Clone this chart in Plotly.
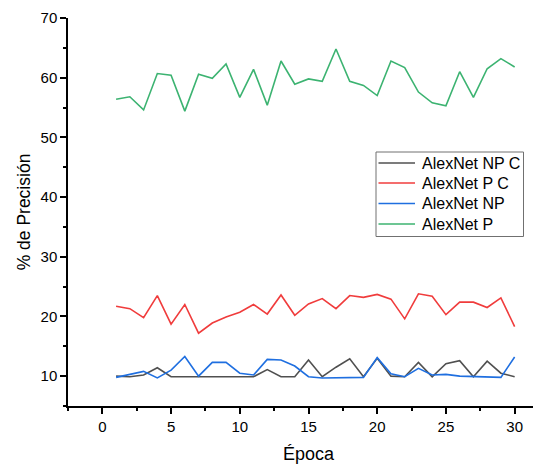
import plotly.graph_objects as go

epochs = list(range(1, 31))

alexnet_np_c = [10.0, 9.9, 10.2, 11.4, 9.9, 9.9, 9.9, 9.9, 9.9, 9.9,
                9.9, 11.1, 9.9, 9.9, 12.7, 9.9, 11.5, 12.9, 9.9, 13.0,
                10.0, 9.9, 12.3, 9.9, 12.1, 12.6, 9.9, 12.5, 10.5, 9.9]
alexnet_p_c = [21.7, 21.3, 19.8, 23.5, 18.7, 22.0, 17.2, 18.9, 19.9, 20.7,
               22.0, 20.4, 23.6, 20.2, 22.1, 23.0, 21.3, 23.5, 23.2, 23.7,
               22.9, 19.6, 23.8, 23.4, 20.3, 22.4, 22.4, 21.5, 23.1, 18.3]
alexnet_np = [9.8, 10.3, 10.8, 9.7, 11.0, 13.3, 10.0, 12.3, 12.3, 10.5,
              10.2, 12.8, 12.7, 11.7, 9.9, 9.7, 9.7, 9.8, 9.8, 13.1,
              10.4, 9.9, 11.3, 10.2, 10.3, 10.0, 9.9, 9.8, 9.8, 13.2]
alexnet_p = [56.4, 56.8, 54.6, 60.7, 60.4, 54.4, 60.6, 59.9, 62.3, 56.7,
             61.4, 55.4, 62.8, 58.9, 59.8, 59.4, 64.8, 59.4, 58.7, 57.0,
             62.8, 61.7, 57.6, 55.8, 55.3, 61.0, 56.7, 61.5, 63.2, 61.8]

series_names = ["AlexNet NP C", "AlexNet P C", "AlexNet NP", "AlexNet P"]
series_values = [alexnet_np_c, alexnet_p_c, alexnet_np, alexnet_p]
series_colors = ["#505050", "#f03c3c", "#1f6fe0", "#3cb371"]

W, H = 541, 468
ML, MR, MT, MB = 60, 0, 10, 70
PW, PH = W - ML - MR, H - MT - MB

def px(xp):
    return (xp - ML) / PW

def py(yp):
    return (H - MB - yp) / PH

fig = go.Figure()
for name, vals, col in zip(series_names, series_values, series_colors):
    fig.add_trace(go.Scatter(x=epochs, y=vals, mode="lines", name=name,
                             line=dict(color=col, width=1.6), showlegend=False))

font_family = "Arial, Liberation Sans, sans-serif"

# Legend box drawn manually (to match the compact row spacing of the original)
shapes = [dict(type="rect", xref="paper", yref="paper",
               x0=px(368), x1=px(515.5), y0=py(228.5), y1=py(144),
               line=dict(color="#707070", width=1), fillcolor="white", layer="above")]
annotations = []
row_y = [155, 175, 195.5, 216]
for name, col, ry in zip(series_names, series_colors, row_y):
    shapes.append(dict(type="line", xref="paper", yref="paper",
                       x0=px(370.5), x1=px(407), y0=py(ry), y1=py(ry),
                       line=dict(color=col, width=1.6), layer="above"))
    annotations.append(dict(text=name, xref="paper", yref="paper",
                            x=px(411.5), y=py(ry), xanchor="left", yanchor="middle",
                            showarrow=False, font=dict(size=16, family=font_family, color="black")))

fig.update_layout(
    width=W, height=H,
    margin=dict(l=ML, r=MR, t=MT, b=MB, autoexpand=False),
    paper_bgcolor="white", plot_bgcolor="white",
    font=dict(family=font_family, color="black", size=15),
    showlegend=False,
    shapes=shapes,
    annotations=annotations,
)
fig.update_xaxes(
    range=[-2.5, 32.5], dtick=5, tick0=0,
    showline=True, linecolor="black", linewidth=1.5,
    ticks="outside", ticklen=6, tickwidth=1.5, tickcolor="black",
    minor=dict(dtick=2.5, tick0=0, ticks="outside", ticklen=3, tickwidth=1.5, tickcolor="black"),
    showgrid=False, zeroline=False, automargin=False,
    tickfont=dict(size=15),
    title=dict(text="Época", font=dict(size=18), standoff=14),
)
fig.update_yaxes(
    range=[5, 70], dtick=10, tick0=0,
    showline=True, linecolor="black", linewidth=1.5,
    ticks="outside", ticklen=6, tickwidth=1.5, tickcolor="black",
    minor=dict(dtick=5, tick0=0, ticks="outside", ticklen=3, tickwidth=1.5, tickcolor="black"),
    showgrid=False, zeroline=False, automargin=False,
    tickfont=dict(size=15),
    title=dict(text="% de Precisión", font=dict(size=17.5), standoff=5),
)

fig.write_html("out.html")
